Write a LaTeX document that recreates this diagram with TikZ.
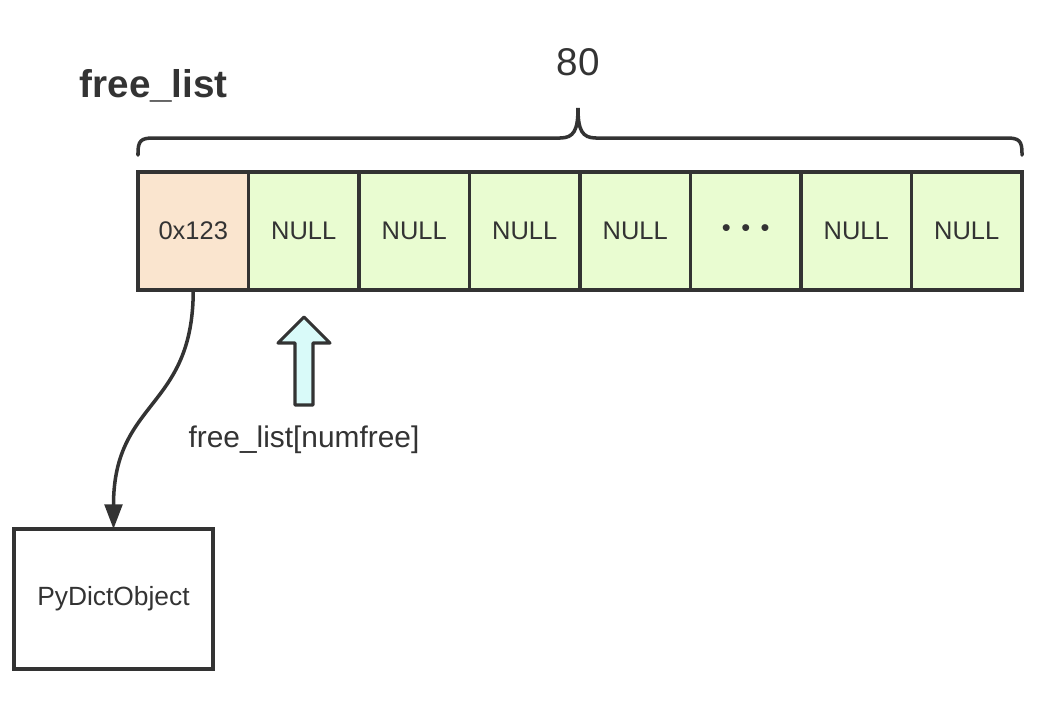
\documentclass[tikz,border=0pt]{standalone}
\usepackage{fontspec}
\setmainfont{Liberation Sans}
\usetikzlibrary{arrows.meta, calc, positioning}
\definecolor{linegray}{HTML}{333333}
\definecolor{ptrfill}{HTML}{FAE5CF}
\definecolor{nullfill}{HTML}{E9FCD1}
\definecolor{markfill}{HTML}{D9FAF9}
\tikzset{
  cell/.style={draw, fill=nullfill, minimum width=2.21cm, minimum height=2.36cm,
    inner sep=0pt, outer sep=0pt, font=\fontsize{14.5}{17}\selectfont},
  objbox/.style={draw, fill=white, minimum width=3.98cm, minimum height=2.8cm,
    inner sep=0pt, outer sep=0pt, font=\fontsize{15}{18}\selectfont}
}
\begin{document}
\begin{tikzpicture}[x=0.02cm, y=-0.02cm, line width=2pt, color=linegray]
\useasboundingbox (0,0) rectangle (1062,708);
% the 80 slots of the free list
\foreach \i/\t in {1/0x123,2/NULL,3/NULL,4/NULL,5/NULL,6/{\textbullet\hspace{6pt}\textbullet\hspace{6pt}\textbullet},7/NULL,8/NULL} {
  \node[cell] (c\i) at ({138+110.5*(\i-0.5)},231) {\t};
}
\node[cell, fill=ptrfill] (c1) at (193.25,231) {0x123};
% brace over the slots
\draw[line cap=round] (138,155) -- (138,153) .. controls (138,141) and (141,138) .. (153,138)
  -- (560,138) .. controls (574,138) and (578,130) .. (578,108)
  .. controls (578,130) and (582,138) .. (596,138)
  -- (1007,138) .. controls (1019,138) and (1022,141) .. (1022,153) -- (1022,155);
\node[anchor=base, font=\fontsize{22}{26}\selectfont] (count) at (578,75) {80};
\node[anchor=base west, font=\fontsize{22}{26}\selectfont\bfseries] (title) at (72,97) {free\_list};
% object pointed to by the first slot
\node[objbox] (obj) at (113.5,599) {PyDictObject};
\draw[-{Triangle[length=14pt,width=10pt]}] (c1.south) .. controls +(0,120) and +(0,-130) .. (obj.north);
% hollow arrow marking free_list[numfree]
\draw[fill=markfill, line width=1.8pt, line join=round] (295,405) -- (295,343) -- (278,343) -- (304,317)
  -- (330,343) -- (313,343) -- (313,405) -- cycle;
\node[font=\fontsize{17}{20}\selectfont] (idx) at (304,440) {free\_list[numfree]};
\end{tikzpicture}
\end{document}
